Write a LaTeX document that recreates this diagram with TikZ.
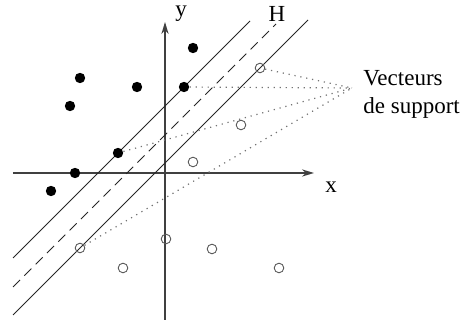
\documentclass[tikz,border=0pt]{standalone}
\usepackage{fontspec}
\setmainfont{Liberation Serif}
\usetikzlibrary{arrows.meta,positioning}

\begin{document}
\begin{tikzpicture}[x=0.5pt, y=-0.5pt,
  font=\fontsize{11.5}{14}\selectfont,
  posdot/.style={circle, fill=black, inner sep=0pt, minimum size=5.2pt},
  negdot/.style={circle, draw=black!65, line width=0.45pt, inner sep=0pt, minimum size=4.8pt},
  axis/.style={-{Stealth[length=6pt, width=3.6pt]}, line width=0.8pt, black!75},
  plane/.style={line width=0.45pt, black!85},
  link/.style={line width=0.6pt, black!55, dash pattern=on 0.6pt off 2.4pt}
]
  \useasboundingbox (0,0) rectangle (462,320);

  % axes
  \coordinate (xs) at (13,173);
  \coordinate (xe) at (314,173);
  \coordinate (ys) at (165,320);
  \coordinate (ye) at (165,22);
  \draw[axis] (xs) -- (xe);
  \draw[axis] (ys) -- (ye);
  \node (xl) at (331,187) {x};
  \node (yl) at (181,14) {y};

  % margin and separating hyperplane
  \coordinate (up1) at (13,258);
  \coordinate (up2) at (250,21);
  \coordinate (hp1) at (13,287);
  \coordinate (hp2) at (276,24);
  \coordinate (lo1) at (13,315);
  \coordinate (lo2) at (308,20);
  \draw[plane] (up1) -- (up2);
  \draw[plane, dash pattern=on 5pt off 3pt] (hp1) -- (hp2);
  \draw[plane] (lo1) -- (lo2);
  \node (hl) at (277,14) {H};

  % class +1
  \node[posdot] (p1) at (193,48) {};
  \node[posdot] (p2) at (80,78) {};
  \node[posdot] (p3) at (70,106) {};
  \node[posdot] (p4) at (137,87) {};
  \node[posdot] (p5) at (184,87) {};
  \node[posdot] (p6) at (118,153) {};
  \node[posdot] (p7) at (75,173) {};
  \node[posdot] (p8) at (51,191) {};

  % class -1
  \node[negdot] (n1) at (260,68) {};
  \node[negdot] (n2) at (241,125) {};
  \node[negdot] (n3) at (193,162) {};
  \node[negdot] (n4) at (80,248) {};
  \node[negdot] (n5) at (166,239) {};
  \node[negdot] (n6) at (212,249) {};
  \node[negdot] (n7) at (123,268) {};
  \node[negdot] (n8) at (279,268) {};

  % support vectors
  \coordinate (sv) at (352,88);
  \node[align=left, inner sep=0pt, anchor=west] (svl) at (363,94)
    {Vecteurs\\de support};
  \draw[link] (n1) -- (sv);
  \draw[link] (p5) -- (sv);
  \draw[link] (p6) -- (sv);
  \draw[link] (n4) -- (sv);
\end{tikzpicture}
\end{document}
